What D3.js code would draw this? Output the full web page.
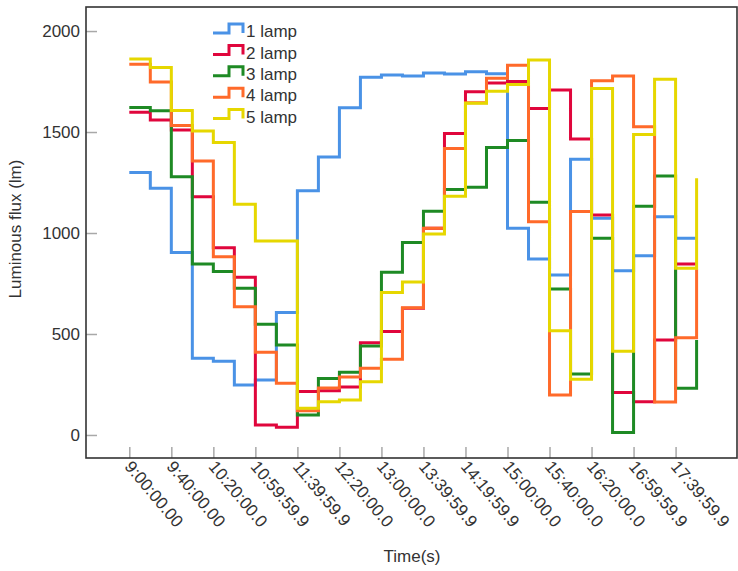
<!DOCTYPE html>
<html lang="en">
  <head>
    <meta charset="utf-8">
    <title>Luminous flux by lamp</title>
    <script src="https://d3js.org/d3.v7.min.js"></script>
    <style type="text/css">
      body {
        margin: 0;
        background-color: #FFFFFF;
        font-family: 'Liberation Sans', Arial, sans-serif;
      }
      .frame {
        fill: none;
        stroke: #333333;
        stroke-width: 1.6;
      }
      .axis path {
        stroke: none;
      }
      .axis line {
        stroke: #A8A8A8;
        stroke-width: 1.5;
      }
      .axis text {
        fill: #333333;
        font-size: 17px;
        font-family: 'Liberation Sans', Arial, sans-serif;
      }
      .series {
        fill: none;
        stroke-width: 3;
      }
      .title, .legend text {
        fill: #333333;
        font-size: 17px;
      }
    </style>
  </head>
  <body>
  </body>
  <script type="text/javascript">
    // Data (one value every 20 minutes)
    var times = ["9:00", "9:20", "9:40", "10:00", "10:20", "10:40", "11:00",
                 "11:20", "11:40", "12:00", "12:20", "12:40", "13:00", "13:20",
                 "13:40", "14:00", "14:20", "14:40", "15:00", "15:20", "15:40",
                 "16:00", "16:20", "16:40", "17:00", "17:20", "17:40", "18:00"];

    var lamp1 = [1300, 1221, 904, 380, 365, 247, 272, 607, 1209, 1376, 1620, 1771, 1782, 1777,
                 1792, 1787, 1799, 1788, 1023, 871, 792, 1365, 1073, 813, 888, 1081, 974, 974];
    var lamp2 = [1598, 1560, 1510, 1180, 927, 781, 50, 38, 215, 219, 237, 457, 512, 627,
                 1023, 1493, 1700, 1743, 1750, 1617, 1708, 1465, 1089, 210, 165, 470, 847, 847];
    var lamp3 = [1621, 1605, 1279, 847, 809, 726, 548, 446, 99, 280, 311, 441, 806, 953,
                 1108, 1216, 1226, 1423, 1458, 1152, 723, 302, 974, 12, 1132, 1282, 231, 470];
    var lamp4 = [1836, 1748, 1532, 1356, 883, 635, 409, 256, 120, 232, 287, 330, 375, 630,
                 1023, 1419, 1645, 1766, 1830, 1056, 198, 1106, 1754, 1777, 1526, 163, 482, 820];
    var lamp5 = [1861, 1820, 1607, 1505, 1448, 1142, 960, 960, 132, 165, 173, 263, 705, 757,
                 995, 1182, 1642, 1702, 1735, 1856, 516, 276, 1716, 414, 1488, 1761, 825, 1271];

    var seriesNames = ["1 lamp", "2 lamp", "3 lamp", "4 lamp", "5 lamp"];
    var seriesValues = [lamp1, lamp2, lamp3, lamp4, lamp5];
    var colors = ["#4A92E6", "#E0063C", "#1E8A24", "#FF6A2A", "#E6D700"];

    var tickTimes = ["9:00", "9:40", "10:20", "11:00", "11:40", "12:20", "13:00",
                     "13:40", "14:20", "15:00", "15:40", "16:20", "17:00", "17:40"];
    var tickLabels = ["9:00:00.00", "9:40:00.00", "10:20:00.0", "10:59:59.9", "11:39:59.9",
                      "12:20:00.0", "13:00:00.0", "13:39:59.9", "14:19:59.9", "15:00:00.0",
                      "15:40:00.0", "16:20:00.0", "16:59:59.9", "17:39:59.9"];
    var yTicks = [0, 500, 1000, 1500, 2000];

    var width = 738,
        height = 571,
        plot = {left: 86, top: 7, right: 737, bottom: 458};

    function minutes(t) {
      var p = t.split(":");
      return (+p[0]) * 60 + (+p[1]);
    }

    var xScale = d3.scaleLinear()
        .domain([minutes("9:00"), minutes("18:00")])
        .range([129.3, 696.6]);

    var yScale = d3.scaleLinear()
        .domain([-114, 2119])
        .range([plot.bottom, plot.top]);

    var svg = d3.select("body").append("svg")
        .attr("width", width)
        .attr("height", height);

    svg.append("rect")
        .attr("width", width)
        .attr("height", height)
        .attr("fill", "#FFFFFF");

    // axes, ticks pointing into the plot
    svg.append("g")
        .attr("class", "axis y-axis")
        .attr("transform", "translate(" + plot.left + ",0)")
        .call(d3.axisLeft(yScale)
          .tickValues(yTicks)
          .tickSizeInner(-11)
          .tickSizeOuter(0)
          .tickPadding(6)
          .tickFormat(d3.format("d")));

    var xAxis = svg.append("g")
        .attr("class", "axis x-axis")
        .attr("transform", "translate(0," + plot.bottom + ")")
        .call(d3.axisBottom(xScale)
          .tickValues(tickTimes.map(minutes))
          .tickSizeInner(-11)
          .tickSizeOuter(0)
          .tickFormat(function(d, i) { return tickLabels[i]; }));

    xAxis.selectAll("text")
        .attr("text-anchor", "start")
        .attr("dy", null)
        .attr("y", null)
        .attr("transform", "translate(-6,9) rotate(50)");

    var line = d3.line()
        .x(function(d, i) { return xScale(minutes(times[i])); })
        .y(function(d) { return yScale(d); })
        .curve(d3.curveStepAfter);

    svg.selectAll(".series")
        .data(seriesValues)
      .enter().append("path")
        .attr("class", "series")
        .attr("stroke", function(d, i) { return colors[i]; })
        .attr("d", line);

    svg.append("rect")
        .attr("class", "frame")
        .attr("x", plot.left)
        .attr("y", plot.top)
        .attr("width", plot.right - plot.left)
        .attr("height", plot.bottom - plot.top);

    // legend
    var legend = svg.append("g")
        .attr("class", "legend");

    var rows = legend.selectAll("g")
        .data(seriesNames)
      .enter().append("g")
        .attr("transform", function(d, i) { return "translate(0," + (31 + i * 21.4) + ")"; });

    rows.append("path")
        .attr("class", "series")
        .attr("stroke", function(d, i) { return colors[i]; })
        .attr("d", "M213,2H229V-7H243V2");

    rows.append("text")
        .attr("x", 246)
        .attr("dy", "0.36em")
        .text(function(d) { return d; });

    // axis titles
    svg.append("text")
        .attr("class", "title")
        .attr("text-anchor", "middle")
        .attr("x", 412)
        .attr("y", 562)
        .text("Time(s)");

    svg.append("text")
        .attr("class", "title")
        .attr("text-anchor", "middle")
        .attr("transform", "translate(21,229) rotate(-90)")
        .text("Luminous flux (lm)");
  </script>
</html>
